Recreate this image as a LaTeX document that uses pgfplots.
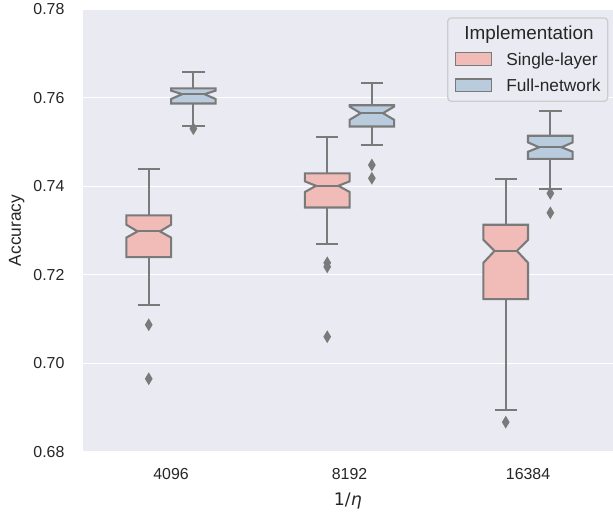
\documentclass[border=0pt]{standalone}
\usepackage{fontspec}
\setmainfont{Liberation Sans}
\newfontfamily\dejavu{DejaVu Sans}
\usepackage{pgfplots}
\pgfplotsset{compat=1.18}
\definecolor{axisbg}{HTML}{EAEAF2}
\definecolor{pinkc}{HTML}{F1BCB8}
\definecolor{bluec}{HTML}{B9CCDD}
\definecolor{boxgray}{HTML}{7A7A7A}
\definecolor{txt}{HTML}{262626}
\definecolor{legedge}{HTML}{CCCCCC}
\pgfplotsset{
  boxshape/.style={draw=boxgray, line width=1.5pt, line join=miter, solid, mark=none, forget plot},
  single/.style={boxshape, fill=pinkc},
  full/.style={boxshape, fill=bluec},
  wh/.style={draw=boxgray, line width=1.5pt, solid, mark=none, forget plot, unbounded coords=jump},
  fl/.style={only marks, forget plot, mark=diamond*, mark size=3.67pt,
    mark options={draw=boxgray, fill=boxgray, xscale=0.8, line width=1pt, solid}},
}
\begin{document}
\begin{tikzpicture}
\begin{axis}[
  scale only axis, width=381.8pt, height=318.67pt,
  xmin=-0.495, xmax=2.476, ymin=0.68, ymax=0.78,
  axis background/.style={fill=axisbg},
  axis line style={draw=none},
  major tick length=0pt,
  ytick={0.68,0.70,0.72,0.74,0.76,0.78},
  xtick={0,1,2}, xticklabels={4096,8192,16384},
  ymajorgrids, grid style={white, line width=1pt},
  /pgf/number format/assume math mode=true,
  /pgf/number format/fixed, /pgf/number format/fixed zerofill, /pgf/number format/precision=2,
  tick label style={font=\fontsize{11.45}{13}\selectfont, text=txt, inner sep=0pt},
  yticklabel style={anchor=east, xshift=-13pt},
  xticklabel style={anchor=north, yshift=-11.9pt},
  ylabel={Accuracy},
  xlabel={\dejavu 1/\textit{η}},
  label style={font=\fontsize{12.45}{14}\selectfont, text=txt},
  ylabel style={at={(axis description cs:-0.1245,0.5)}, anchor=center},
  xlabel style={at={(axis description cs:0.5,-0.110)}, anchor=center},
  legend cell align=left,
  legend style={at={(0.9911,0.9817)}, anchor=north east,
    draw=legedge, line width=0.9pt, fill=axisbg, rounded corners=2.5pt,
    inner xsep=5.2pt, inner ysep=6.8pt, row sep=9pt,
    font=\fontsize{12.45}{14}\selectfont, text=txt,
    nodes={inner sep=0pt, text height=8.9pt, text depth=0pt}},
]
\addlegendimage{empty legend}
\addlegendentry{\fontsize{13.6}{15}\selectfont\hspace*{-30.1pt}Implementation}
\addlegendimage{legend image code/.code={\draw[fill=pinkc, draw=boxgray, line width=0.9pt, rounded corners=0pt] (0pt,-4.43pt) rectangle (25.7pt,4.43pt); \path (36pt,0pt);}}
\addlegendentry{Single-layer}
\addlegendimage{legend image code/.code={\draw[fill=bluec, draw=boxgray, line width=0.9pt, rounded corners=0pt] (0pt,-4.43pt) rectangle (25.7pt,4.43pt); \path (36pt,0pt);}}
\addlegendentry{Full-network}

% ---- 4096, Single-layer: lw 0.7132, q1 0.7240, med 0.7298, q3 0.7334, uw 0.7438
\addplot[wh] coordinates {(-0.125,0.7240) (-0.125,0.7132) (nan,nan) (-0.1875,0.7132) (-0.0625,0.7132) (nan,nan)
  (-0.125,0.7334) (-0.125,0.7438) (nan,nan) (-0.1875,0.7438) (-0.0625,0.7438)};
\addplot[single] coordinates {(-0.25,0.7240) (0,0.7240) (0,0.7284) (-0.0625,0.7298) (0,0.7313) (0,0.7334)
  (-0.25,0.7334) (-0.25,0.7313) (-0.1875,0.7298) (-0.25,0.7284)} -- cycle;
\addplot[wh] coordinates {(-0.1875,0.7298) (-0.0625,0.7298)};
\addplot[fl] coordinates {(-0.125,0.7087) (-0.125,0.6965)};
% ---- 4096, Full-network: lw 0.7536, q1 0.7587, med 0.7608, q3 0.7621, uw 0.7659
\addplot[wh] coordinates {(0.125,0.7587) (0.125,0.7536) (nan,nan) (0.0625,0.7536) (0.1875,0.7536) (nan,nan)
  (0.125,0.7621) (0.125,0.7659) (nan,nan) (0.0625,0.7659) (0.1875,0.7659)};
\addplot[full] coordinates {(0,0.7587) (0.25,0.7587) (0.25,0.7597) (0.1875,0.7608) (0.25,0.7616) (0.25,0.7621)
  (0,0.7621) (0,0.7616) (0.0625,0.7608) (0,0.7597)} -- cycle;
\addplot[wh] coordinates {(0.0625,0.7608) (0.1875,0.7608)};
\addplot[fl] coordinates {(0.125,0.7530)};
% ---- 8192, Single-layer: lw 0.7270, q1 0.7352, med 0.7401, q3 0.7429, uw 0.7511
\addplot[wh] coordinates {(0.875,0.7352) (0.875,0.7270) (nan,nan) (0.8125,0.7270) (0.9375,0.7270) (nan,nan)
  (0.875,0.7429) (0.875,0.7511) (nan,nan) (0.8125,0.7511) (0.9375,0.7511)};
\addplot[single] coordinates {(0.75,0.7352) (1,0.7352) (1,0.7387) (0.9375,0.7401) (1,0.7411) (1,0.7429)
  (0.75,0.7429) (0.75,0.7411) (0.8125,0.7401) (0.75,0.7387)} -- cycle;
\addplot[wh] coordinates {(0.8125,0.7401) (0.9375,0.7401)};
\addplot[fl] coordinates {(0.875,0.7227) (0.875,0.7218) (0.875,0.7060)};
% ---- 8192, Full-network: lw 0.7493, q1 0.7535, med 0.7565, q3 0.7583, uw 0.7634
\addplot[wh] coordinates {(1.125,0.7535) (1.125,0.7493) (nan,nan) (1.0625,0.7493) (1.1875,0.7493) (nan,nan)
  (1.125,0.7583) (1.125,0.7634) (nan,nan) (1.0625,0.7634) (1.1875,0.7634)};
\addplot[full] coordinates {(1,0.7535) (1.25,0.7535) (1.25,0.7550) (1.1875,0.7565) (1.25,0.7580) (1.25,0.7583)
  (1,0.7583) (1,0.7580) (1.0625,0.7565) (1,0.7550)} -- cycle;
\addplot[wh] coordinates {(1.0625,0.7565) (1.1875,0.7565)};
\addplot[fl] coordinates {(1.125,0.7448) (1.125,0.7418)};
% ---- 16384, Single-layer: lw 0.6894, q1 0.7145, med 0.7254, q3 0.7313, uw 0.7417
\addplot[wh] coordinates {(1.875,0.7145) (1.875,0.6894) (nan,nan) (1.8125,0.6894) (1.9375,0.6894) (nan,nan)
  (1.875,0.7313) (1.875,0.7417) (nan,nan) (1.8125,0.7417) (1.9375,0.7417)};
\addplot[single] coordinates {(1.75,0.7145) (2,0.7145) (2,0.7227) (1.9375,0.7254) (2,0.7279) (2,0.7313)
  (1.75,0.7313) (1.75,0.7279) (1.8125,0.7254) (1.75,0.7227)} -- cycle;
\addplot[wh] coordinates {(1.8125,0.7254) (1.9375,0.7254)};
\addplot[fl] coordinates {(1.875,0.6867)};
% ---- 16384, Full-network: lw 0.7393, q1 0.7462, med 0.7488, q3 0.7514, uw 0.7569
\addplot[wh] coordinates {(2.125,0.7462) (2.125,0.7393) (nan,nan) (2.0625,0.7393) (2.1875,0.7393) (nan,nan)
  (2.125,0.7514) (2.125,0.7569) (nan,nan) (2.0625,0.7569) (2.1875,0.7569)};
\addplot[full] coordinates {(2,0.7462) (2.25,0.7462) (2.25,0.7478) (2.1875,0.7488) (2.25,0.7499) (2.25,0.7514)
  (2,0.7514) (2,0.7499) (2.0625,0.7488) (2,0.7478)} -- cycle;
\addplot[wh] coordinates {(2.0625,0.7488) (2.1875,0.7488)};
\addplot[fl] coordinates {(2.125,0.7384) (2.125,0.7340)};
\end{axis}
\pgfresetboundingbox
\path[use as bounding box] (-59.54pt,-43.34pt) rectangle (381.8pt,325.29pt);
\end{tikzpicture}
\end{document}
